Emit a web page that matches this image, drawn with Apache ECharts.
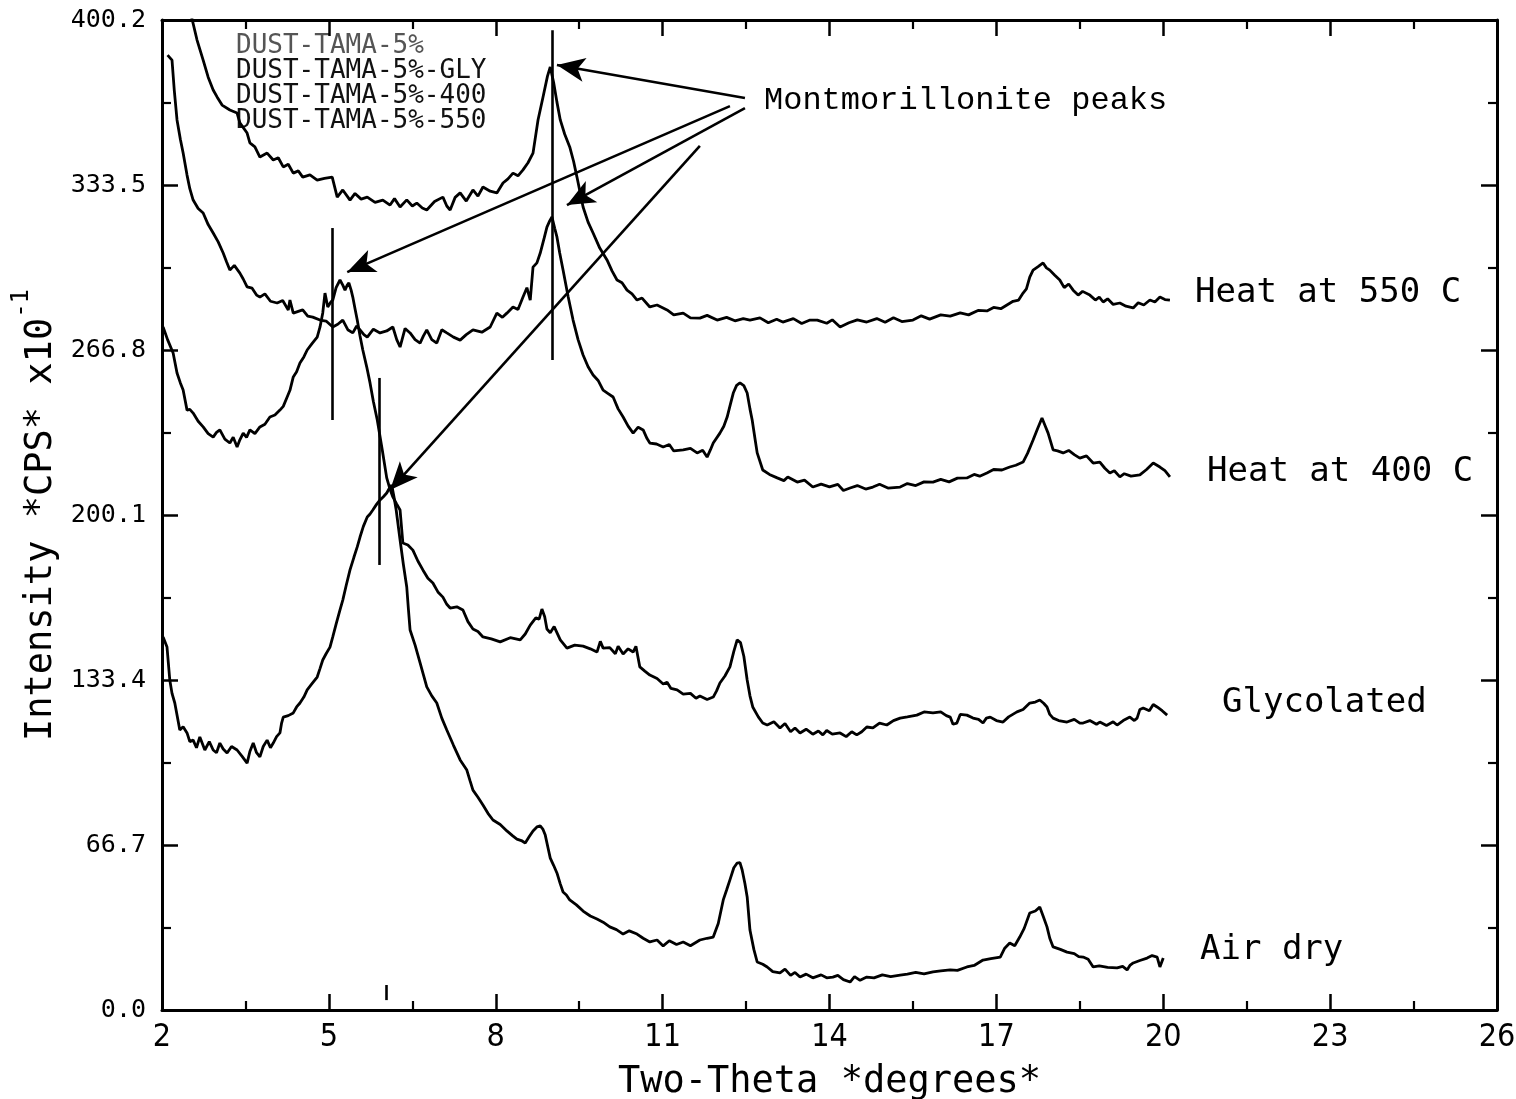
<!DOCTYPE html>
<html>
<head>
<meta charset="utf-8">
<script src="https://cdn.jsdelivr.net/npm/echarts@6/dist/echarts.min.js"></script>
<style>
html,body{margin:0;padding:0;background:#fff;}
#chart{width:1516px;height:1099px;}
</style>
</head>
<body>
<div id="chart"></div>
<script>
// ---- data (2-theta degrees, intensity CPS x10^-1) ----
const heat550 = [[2.42,412],[2.63,392.1],[2.74,384.0],[2.83,377.1],[2.92,371.9],[2.99,369.1],[3.08,365.8],[3.22,363.8],[3.35,362.6],[3.40,358.6],[3.53,354.5],[3.58,350.5],[3.67,348.9],[3.76,344.8],[3.89,346.4],[4.00,343.6],[4.09,344.5],[4.18,340.8],[4.27,341.9],[4.36,338.3],[4.45,339.2],[4.53,336.7],[4.66,337.6],[4.79,335.5],[4.92,336.2],[5.06,336.7],[5.15,328.6],[5.25,331.5],[5.38,327.4],[5.47,330.1],[5.58,327.8],[5.69,328.6],[5.83,326.5],[5.97,327.4],[6.10,325.4],[6.18,328.0],[6.28,324.6],[6.40,327.5],[6.50,325.0],[6.58,326.2],[6.68,324.2],[6.76,323.4],[6.90,326.8],[7.05,328.6],[7.12,325.0],[7.18,323.4],[7.27,328.5],[7.36,330.3],[7.47,327.0],[7.59,331.5],[7.68,329.0],[7.77,332.7],[7.90,331.0],[8.02,330.3],[8.13,334.3],[8.22,336.0],[8.31,338.3],[8.40,337.2],[8.49,339.6],[8.58,342.5],[8.67,346.4],[8.76,359.8],[8.85,369.1],[8.93,377.5],[8.98,381.2],[9.04,375.0],[9.10,367.0],[9.16,359.8],[9.24,354.0],[9.33,348.9],[9.40,343.0],[9.46,336.7],[9.57,324.6],[9.66,318.5],[9.75,314.1],[9.87,308.0],[10.00,303.2],[10.09,298.8],[10.18,295.1],[10.27,294.0],[10.36,291.0],[10.45,289.5],[10.54,287.0],[10.63,287.8],[10.77,284.2],[10.90,285.0],[11.08,283.0],[11.20,281.0],[11.37,281.7],[11.50,279.8],[11.67,279.7],[11.80,280.8],[11.98,278.9],[12.15,280.0],[12.30,278.6],[12.45,279.5],[12.57,278.9],[12.75,279.8],[12.90,277.8],[13.05,279.2],[13.16,278.1],[13.35,279.5],[13.50,277.5],[13.65,278.9],[13.78,278.9],[13.95,277.6],[14.05,279.0],[14.19,276.1],[14.35,277.8],[14.50,279.0],[14.67,278.1],[14.85,279.5],[15.00,278.0],[15.15,279.8],[15.30,278.3],[15.50,278.9],[15.65,280.6],[15.80,279.3],[16.00,281.0],[16.17,280.5],[16.35,281.8],[16.50,281.0],[16.67,282.8],[16.83,282.6],[16.95,284.0],[17.08,283.5],[17.19,285.0],[17.30,286.5],[17.40,287.0],[17.48,289.8],[17.54,291.5],[17.60,296.3],[17.66,299.1],[17.75,300.5],[17.84,302.0],[17.90,300.0],[17.96,299.1],[18.05,297.0],[18.14,295.1],[18.22,292.0],[18.30,293.5],[18.38,291.0],[18.47,289.0],[18.55,290.5],[18.68,289.0],[18.78,287.0],[18.85,288.2],[18.92,286.2],[19.00,287.5],[19.10,285.2],[19.22,285.8],[19.33,284.5],[19.46,283.8],[19.55,285.9],[19.65,285.0],[19.76,287.0],[19.85,286.2],[19.94,288.2],[20.03,287.2],[20.12,287.0]];

const heat400 = [[2.10,386.0],[2.18,384.0],[2.22,372.0],[2.27,359.8],[2.33,352.0],[2.38,346.4],[2.45,337.5],[2.50,332.0],[2.56,327.4],[2.65,324.0],[2.74,322.2],[2.83,317.5],[2.92,314.1],[3.01,310.5],[3.10,306.0],[3.16,302.5],[3.22,299.1],[3.30,301.0],[3.40,297.9],[3.46,295.5],[3.53,292.3],[3.62,291.8],[3.70,289.0],[3.76,288.2],[3.85,289.5],[3.95,286.5],[4.07,285.8],[4.17,286.8],[4.27,283.0],[4.30,287.0],[4.36,281.7],[4.45,282.4],[4.53,283.0],[4.62,280.5],[4.71,280.1],[4.84,278.9],[4.95,278.5],[5.07,276.1],[5.16,277.2],[5.25,278.9],[5.34,275.0],[5.43,273.7],[5.50,276.5],[5.56,274.9],[5.63,273.0],[5.69,272.0],[5.80,275.2],[5.92,273.7],[6.04,274.5],[6.15,276.1],[6.22,271.0],[6.28,268.0],[6.37,275.5],[6.46,273.7],[6.55,271.0],[6.64,269.6],[6.70,272.5],[6.76,274.9],[6.85,271.0],[6.94,269.6],[7.03,275.0],[7.12,273.7],[7.24,272.0],[7.36,270.8],[7.47,273.0],[7.59,274.9],[7.75,274.0],[7.90,276.1],[8.02,281.7],[8.12,280.0],[8.20,281.7],[8.31,284.2],[8.40,283.2],[8.49,288.2],[8.56,292.0],[8.62,287.0],[8.67,300.3],[8.74,302.0],[8.80,306.0],[8.87,312.0],[8.92,316.5],[8.97,319.0],[9.01,320.6],[9.06,316.0],[9.10,312.5],[9.15,306.0],[9.21,299.1],[9.30,288.5],[9.39,278.9],[9.48,271.0],[9.57,264.8],[9.66,260.0],[9.75,256.7],[9.84,254.5],[9.93,250.6],[10.02,249.2],[10.11,247.8],[10.20,243.0],[10.29,239.7],[10.38,236.0],[10.47,233.2],[10.56,235.6],[10.65,234.5],[10.72,231.0],[10.77,229.2],[10.89,228.8],[11.01,227.6],[11.12,228.6],[11.20,226.0],[11.37,226.4],[11.50,227.0],[11.62,225.2],[11.72,226.3],[11.80,223.5],[11.86,226.5],[11.91,229.2],[12.03,233.2],[12.10,236.0],[12.16,239.7],[12.22,245.0],[12.27,249.4],[12.33,252.5],[12.39,253.5],[12.46,252.4],[12.52,249.4],[12.57,243.0],[12.61,238.5],[12.66,231.0],[12.70,225.2],[12.80,218.3],[12.92,216.5],[13.06,215.1],[13.18,214.0],[13.25,215.5],[13.42,213.4],[13.55,214.2],[13.70,211.4],[13.85,212.6],[14.00,211.5],[14.15,212.5],[14.25,210.0],[14.37,211.0],[14.50,212.0],[14.65,210.6],[14.78,211.4],[14.90,212.5],[15.05,211.0],[15.27,211.4],[15.40,212.8],[15.55,212.0],[15.70,213.5],[15.86,213.4],[16.00,214.5],[16.15,213.5],[16.30,215.0],[16.47,215.1],[16.60,216.5],[16.70,215.8],[16.83,217.1],[16.95,218.5],[17.10,218.3],[17.24,219.5],[17.35,220.2],[17.48,221.5],[17.56,225.0],[17.66,230.4],[17.74,235.0],[17.82,239.3],[17.88,236.0],[17.93,233.2],[18.02,226.4],[18.10,226.0],[18.20,225.2],[18.30,226.2],[18.40,224.5],[18.50,223.1],[18.62,224.0],[18.74,221.1],[18.86,221.5],[18.95,219.0],[19.04,217.1],[19.12,218.0],[19.22,215.5],[19.30,216.8],[19.42,215.8],[19.58,216.3],[19.70,218.5],[19.82,221.1],[19.94,219.5],[20.03,218.0],[20.12,215.5]];

const glycolated = [[2.02,276.1],[2.10,271.0],[2.20,265.6],[2.27,257.5],[2.33,253.5],[2.38,250.6],[2.45,242.5],[2.50,242.8],[2.56,241.3],[2.65,238.0],[2.74,235.7],[2.83,233.0],[2.92,231.6],[2.98,233.5],[3.04,234.5],[3.13,230.8],[3.22,229.2],[3.28,231.5],[3.35,227.6],[3.40,230.5],[3.46,233.2],[3.52,231.5],[3.58,234.5],[3.67,233.0],[3.76,235.7],[3.85,236.8],[3.94,239.7],[4.03,240.5],[4.12,242.5],[4.18,244.0],[4.25,247.8],[4.30,250.5],[4.36,255.9],[4.42,258.0],[4.48,261.5],[4.55,264.0],[4.61,266.8],[4.70,269.5],[4.79,272.0],[4.84,276.0],[4.89,281.8],[4.93,289.8],[4.98,284.2],[5.03,286.0],[5.07,287.0],[5.13,292.0],[5.20,295.1],[5.25,293.0],[5.29,291.0],[5.33,293.0],[5.36,293.9],[5.40,291.0],[5.43,288.2],[5.47,283.5],[5.51,278.9],[5.56,272.5],[5.61,266.8],[5.68,260.0],[5.74,253.5],[5.80,246.0],[5.87,238.5],[5.96,226.4],[6.04,215.1],[6.10,210.5],[6.15,207.4],[6.22,204.5],[6.28,202.1],[6.33,188.8],[6.42,188.0],[6.51,185.9],[6.60,181.5],[6.69,177.9],[6.78,174.5],[6.87,172.6],[6.96,169.0],[7.05,166.9],[7.12,164.0],[7.18,162.5],[7.30,163.0],[7.41,161.7],[7.50,157.0],[7.59,154.0],[7.68,153.0],[7.77,150.8],[7.92,150.0],[8.08,148.8],[8.26,150.5],[8.44,149.6],[8.53,152.0],[8.62,155.6],[8.72,158.5],[8.78,158.0],[8.83,162.1],[8.88,159.0],[8.92,154.0],[8.98,152.5],[9.05,155.0],[9.16,149.6],[9.28,146.3],[9.42,147.5],[9.57,147.1],[9.70,146.0],[9.82,144.7],[9.88,149.0],[9.93,146.3],[10.05,146.5],[10.15,144.0],[10.20,147.0],[10.29,143.9],[10.38,146.0],[10.47,144.7],[10.52,147.0],[10.59,138.7],[10.68,137.0],[10.77,135.4],[10.90,134.0],[11.01,131.8],[11.08,132.5],[11.15,130.0],[11.26,129.4],[11.37,127.7],[11.50,128.0],[11.60,126.0],[11.67,126.9],[11.80,125.5],[11.91,126.5],[11.97,129.0],[12.03,132.2],[12.12,135.0],[12.21,138.7],[12.28,145.0],[12.34,149.6],[12.40,148.5],[12.46,143.0],[12.52,133.4],[12.57,127.0],[12.62,122.5],[12.72,118.5],[12.80,116.0],[12.88,115.2],[13.00,116.5],[13.11,114.0],[13.20,115.8],[13.30,112.5],[13.38,114.0],[13.47,112.0],[13.58,113.5],[13.70,111.5],[13.80,112.8],[13.88,111.2],[13.95,113.0],[14.05,111.5],[14.19,112.0],[14.30,110.5],[14.40,112.5],[14.49,111.2],[14.58,112.5],[14.67,114.4],[14.78,114.0],[14.90,116.0],[15.03,115.2],[15.15,117.0],[15.27,118.0],[15.40,118.5],[15.57,119.2],[15.70,120.5],[15.86,120.1],[16.00,120.5],[16.10,119.0],[16.17,118.4],[16.22,115.5],[16.29,116.0],[16.35,119.5],[16.47,119.2],[16.58,118.0],[16.68,117.5],[16.76,116.0],[16.82,118.0],[16.89,118.4],[17.00,117.0],[17.12,116.4],[17.22,118.5],[17.37,120.5],[17.48,121.5],[17.60,124.1],[17.70,124.5],[17.78,125.3],[17.85,124.0],[17.91,122.5],[17.96,119.5],[18.02,118.0],[18.12,117.0],[18.27,116.4],[18.40,117.5],[18.50,116.0],[18.56,116.0],[18.68,117.0],[18.80,115.5],[18.86,116.4],[18.98,115.0],[19.10,116.5],[19.17,115.2],[19.28,117.0],[19.40,118.4],[19.48,117.0],[19.53,118.0],[19.58,121.5],[19.64,122.1],[19.75,121.0],[19.82,123.5],[19.89,122.5],[19.98,121.0],[20.07,119.2]];

const airDry = [[2.02,150.8],[2.09,146.7],[2.14,133.4],[2.18,128.0],[2.23,124.1],[2.28,118.0],[2.32,113.2],[2.38,114.5],[2.45,112.0],[2.50,108.5],[2.56,109.1],[2.62,106.0],[2.68,110.4],[2.77,105.1],[2.85,108.5],[2.92,105.1],[2.98,104.0],[3.04,107.9],[3.10,105.5],[3.17,103.9],[3.25,106.5],[3.35,105.1],[3.44,102.5],[3.53,99.8],[3.58,104.5],[3.64,107.9],[3.70,104.0],[3.76,102.3],[3.82,106.5],[3.89,109.1],[3.95,106.0],[4.00,107.9],[4.06,110.5],[4.12,112.0],[4.15,116.0],[4.18,118.4],[4.27,119.0],[4.36,120.1],[4.42,122.5],[4.48,124.1],[4.55,126.5],[4.61,129.4],[4.70,132.0],[4.79,134.6],[4.84,138.0],[4.89,141.5],[4.95,144.0],[5.02,146.7],[5.07,150.8],[5.13,156.0],[5.20,161.7],[5.25,165.7],[5.31,171.5],[5.38,177.9],[5.45,183.0],[5.51,187.2],[5.56,191.2],[5.62,195.5],[5.69,199.3],[5.74,200.5],[5.79,202.1],[5.86,204.5],[5.92,206.2],[5.98,207.5],[6.04,209.0],[6.09,211.0],[6.13,212.2],[6.17,207.5],[6.21,202.1],[6.28,190.0],[6.34,180.0],[6.40,171.0],[6.43,162.0],[6.46,153.6],[6.55,147.5],[6.64,140.3],[6.70,135.5],[6.76,130.6],[6.85,127.0],[6.94,124.1],[7.03,118.0],[7.12,113.2],[7.24,107.0],[7.36,101.1],[7.48,97.0],[7.54,92.5],[7.59,88.9],[7.68,86.0],[7.77,82.9],[7.86,79.5],[7.95,76.8],[8.08,75.0],[8.20,72.4],[8.30,70.5],[8.38,69.1],[8.46,68.5],[8.53,67.5],[8.60,70.0],[8.67,72.4],[8.74,74.0],[8.80,74.4],[8.85,73.0],[8.89,70.7],[8.94,65.5],[8.98,61.4],[9.04,58.5],[9.10,55.4],[9.16,51.0],[9.21,47.7],[9.27,46.5],[9.33,44.5],[9.45,42.5],[9.57,40.0],[9.70,38.0],[9.82,36.8],[9.93,35.5],[10.05,33.6],[10.17,32.5],[10.29,30.7],[10.40,32.0],[10.54,30.7],[10.65,29.0],[10.77,27.5],[10.90,28.3],[11.01,25.9],[11.12,28.0],[11.25,26.5],[11.37,27.5],[11.50,26.0],[11.67,28.3],[11.80,29.0],[11.91,29.5],[12.00,35.0],[12.09,44.5],[12.15,48.5],[12.21,52.6],[12.28,57.5],[12.34,59.4],[12.39,59.6],[12.43,56.6],[12.48,51.0],[12.52,45.7],[12.57,32.3],[12.64,24.5],[12.70,19.4],[12.80,18.5],[12.88,17.4],[12.98,15.5],[13.11,15.0],[13.20,16.5],[13.30,14.0],[13.38,15.2],[13.47,13.3],[13.58,14.5],[13.70,13.0],[13.85,14.2],[13.95,13.0],[14.06,13.3],[14.15,14.0],[14.25,12.3],[14.37,11.3],[14.45,13.5],[14.55,12.0],[14.67,13.3],[14.80,13.0],[14.95,14.2],[15.10,13.5],[15.27,14.1],[15.40,14.5],[15.55,15.2],[15.70,14.6],[15.86,15.4],[16.00,15.8],[16.17,16.2],[16.30,16.0],[16.47,17.4],[16.60,18.0],[16.76,20.2],[16.90,20.8],[17.07,21.4],[17.15,25.0],[17.24,27.1],[17.33,26.0],[17.42,29.5],[17.50,33.0],[17.60,39.2],[17.70,40.0],[17.78,41.6],[17.84,38.0],[17.91,33.6],[17.96,29.0],[18.02,25.5],[18.15,24.5],[18.27,23.4],[18.40,22.8],[18.48,21.6],[18.56,21.4],[18.65,20.5],[18.74,17.4],[18.85,17.8],[19.00,17.2],[19.17,17.0],[19.27,17.6],[19.35,16.2],[19.40,18.0],[19.46,19.0],[19.58,20.0],[19.71,21.0],[19.80,22.0],[19.89,21.4],[19.94,17.4],[20.00,21.0]];

// axis ranges / ticks
const xRange = {min: 2, max: 26, interval: 3};
const yRange = {min: 0, max: 400.2, interval: 66.7};

// curve names (right-hand labels) and legend lines
const curveLabels = ['Heat at 550 C', 'Heat at 400 C', 'Glycolated', 'Air dry'];
const legendLines = ['DUST-TAMA-5%', 'DUST-TAMA-5%-GLY', 'DUST-TAMA-5%-400', 'DUST-TAMA-5%-550'];
const annotationText = 'Montmorillonite peaks';

// annotation geometry in data units: arrows [fromX, fromY, toX, toY]
const arrows = [[12.48,368.7, 9.10,382.0],[12.21,365.4, 5.33,298.3],[12.48,364.6, 9.28,325.4],[11.67,349.3, 6.10,210.2]];
// vertical peak markers [x, yTop, yBottom]
const peakMarkers = [[9.01,396.1,262.8],[5.06,316.1,238.5],[5.90,255.5,179.9],[6.04,10.1,4.0]];

// ---- chart ----
const mono = "'DejaVu Sans Mono', monospace";
const narrow = "'Liberation Sans Narrow', 'DejaVu Sans Condensed', 'Arial Narrow', 'DejaVu Sans', sans-serif";
const chart = echarts.init(document.getElementById('chart'), null, {renderer: 'canvas'});

const axisLine = {show: true, onZero: false, lineStyle: {color: '#000', width: 3}};
const tickStyle = {show: true, inside: true, length: 16, lineStyle: {color: '#000', width: 2.5}};
const minorStyle = {show: true, splitNumber: 2, length: 9, lineStyle: {color: '#000', width: 2.2}};

const lineSeries = (name, data) => ({
  name, type: 'line', data, showSymbol: false, symbol: 'none', clip: true,
  lineStyle: {color: '#000', width: 2.8}, silent: true, animation: false
});

const markData = [];
arrows.forEach(a => {
  markData.push([{coord: [a[0], a[1]], symbol: 'none'}, {coord: [a[2], a[3]], symbol: 'arrow', symbolSize: [18, 28]}]);
});
peakMarkers.forEach(m => {
  markData.push([{coord: [m[0], m[1]], symbol: 'none'}, {coord: [m[0], m[2]], symbol: 'none'}]);
});

const airSeries = lineSeries('Air dry', airDry);
airSeries.markLine = {
  silent: true, animation: false, symbol: ['none', 'none'],
  label: {show: false},
  lineStyle: {color: '#000', width: 2.6, type: 'solid'},
  emphasis: {disabled: true},
  data: markData
};

const graphics = [];
legendLines.forEach((t, i) => {
  graphics.push({type: 'text', left: 236, top: 33 + i * 25,
    style: {text: t, fill: i === 0 ? '#555' : '#111', font: "26px 'DejaVu Sans Mono', monospace"}});
});
graphics.push({type: 'text', left: 764, top: 85,
  style: {text: annotationText, fill: '#000', font: "32px 'Liberation Mono', 'Courier New', monospace"}});
const labelPos = [[1195, 276], [1207, 455], [1222, 686], [1200, 933]];
curveLabels.forEach((t, i) => {
  graphics.push({type: 'text', left: labelPos[i][0], top: labelPos[i][1],
    style: {text: t, fill: '#000', font: "34px 'DejaVu Sans Mono', monospace"}});
});

chart.setOption({
  animation: false,
  backgroundColor: '#fff',
  grid: {left: 162, right: 19, top: 20, bottom: 89, show: false, containLabel: false, outerBoundsMode: 'none'},
  xAxis: [{
    type: 'value', position: 'bottom', min: xRange.min, max: xRange.max, interval: xRange.interval,
    axisLine, axisTick: tickStyle, minorTick: minorStyle, splitLine: {show: false},
    axisLabel: {color: '#000', fontSize: 32, fontFamily: narrow, margin: 12},
    name: 'Two-Theta *degrees*', nameLocation: 'middle', nameGap: 54,
    nameTextStyle: {color: '#000', fontSize: 37, fontFamily: mono}
  }, {
    type: 'value', position: 'top', min: xRange.min, max: xRange.max, interval: xRange.interval,
    axisLine, axisTick: tickStyle, minorTick: minorStyle, splitLine: {show: false},
    axisLabel: {show: false}
  }],
  yAxis: [{
    type: 'value', position: 'left', min: yRange.min, max: yRange.max, interval: yRange.interval,
    axisLine, axisTick: tickStyle, minorTick: minorStyle, splitLine: {show: false},
    axisLabel: {color: '#000', fontSize: 25, fontFamily: mono, margin: 16,
      formatter: v => v.toFixed(1)},
    name: '{t|Intensity *CPS* x10}{s|-1}', nameLocation: 'middle', nameGap: 100,
    nameTextStyle: {
      color: '#000',
      rich: {
        t: {fontSize: 37, fontFamily: mono, color: '#000', lineHeight: 50, verticalAlign: 'bottom'},
        s: {fontSize: 24, fontFamily: mono, color: '#000', lineHeight: 50, verticalAlign: 'top'}
      }
    }
  }, {
    type: 'value', position: 'right', min: yRange.min, max: yRange.max, interval: yRange.interval,
    axisLine, axisTick: tickStyle, minorTick: minorStyle, splitLine: {show: false},
    axisLabel: {show: false}
  }],
  series: [
    lineSeries('Heat at 550 C', heat550),
    lineSeries('Heat at 400 C', heat400),
    lineSeries('Glycolated', glycolated),
    airSeries
  ],
  graphic: graphics
});
</script>
</body>
</html>
